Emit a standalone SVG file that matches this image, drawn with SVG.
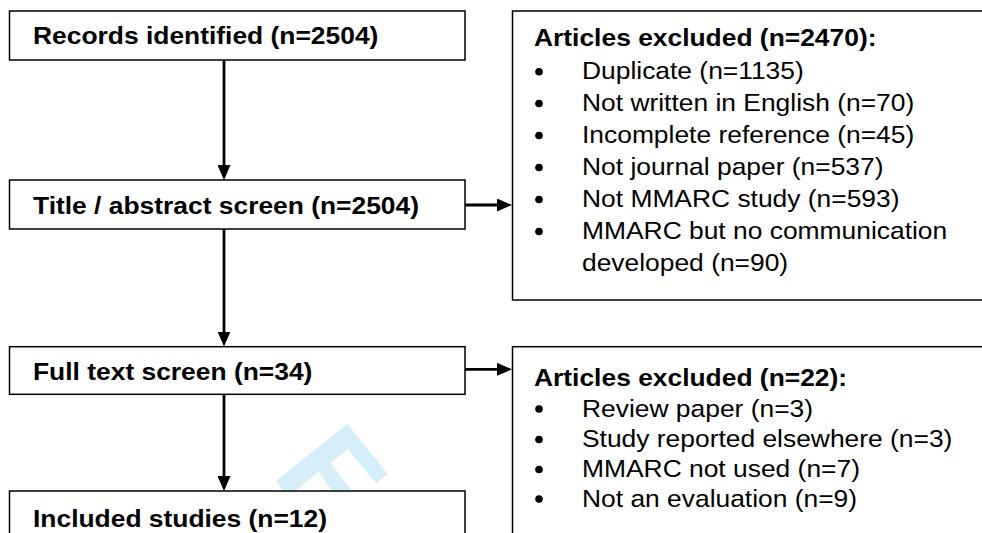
<svg xmlns="http://www.w3.org/2000/svg" width="982" height="533" viewBox="0 0 982 533">
<style>
.box{fill:#fff;stroke:#000;stroke-width:1.5}
.b{font-family:"Liberation Sans",Arial,sans-serif;font-size:24px;font-weight:bold;fill:#000}
.r{font-family:"Liberation Sans",Arial,sans-serif;font-size:24px;fill:#000}
.conn{stroke:#000;stroke-width:2.8;fill:none;marker-end:url(#ah)}
.wm{fill:#d5eefa}
</style>
<defs>
<marker id="ah" viewBox="0 0 15 13" refX="5" refY="6.5" markerWidth="15" markerHeight="13" markerUnits="userSpaceOnUse" orient="auto">
<path d="M0,0 L15,6.5 L0,13 z" fill="#000"/>
</marker>
<circle id="dot" r="3.8" fill="#000"/>
</defs>
<rect width="982" height="533" fill="#fff"/>
<polygon class="wm" points="347.3,424 387.7,474 376,483.3 347.7,449 330.7,462.7 351.7,491 332.3,491 318.3,471.7 295,491 283.3,491 276,481"/>

<g id="records">
<rect class="box" x="9.5" y="11" width="455.5" height="49"/>
<text class="b" transform="translate(33,44) scale(1.1,1)">Records identified (n=2504)</text>
</g>
<g id="title-screen">
<rect class="box" x="9.5" y="180" width="455.5" height="49"/>
<text class="b" transform="translate(33,213.5) scale(1.1,1)">Title / abstract screen (n=2504)</text>
</g>
<g id="fulltext-screen">
<rect class="box" x="9.5" y="346.7" width="455.5" height="47.6"/>
<text class="b" transform="translate(33,379.5) scale(1.1,1)">Full text screen (n=34)</text>
</g>
<g id="included">
<rect class="box" x="9.5" y="491" width="455.5" height="60"/>
<text class="b" transform="translate(33,527) scale(1.1,1)">Included studies (n=12)</text>
</g>

<g id="excluded-1">
<rect class="box" x="512.5" y="11" width="480" height="289"/>
<text class="b" transform="translate(534,45.5) scale(1.1,1)">Articles excluded (n=2470):</text>
<use href="#dot" x="539" y="71.7"/>
<text class="r" transform="translate(582,79) scale(1.1,1)">Duplicate (n=1135)</text>
<use href="#dot" x="539" y="103.5"/>
<text class="r" transform="translate(582,111) scale(1.1,1)">Not written in English (n=70)</text>
<use href="#dot" x="539" y="135.5"/>
<text class="r" transform="translate(582,143) scale(1.1,1)">Incomplete reference (n=45)</text>
<use href="#dot" x="539" y="167.5"/>
<text class="r" transform="translate(582,175) scale(1.1,1)">Not journal paper (n=537)</text>
<use href="#dot" x="539" y="199.5"/>
<text class="r" transform="translate(582,207) scale(1.1,1)">Not MMARC study (n=593)</text>
<use href="#dot" x="539" y="231.5"/>
<text class="r" transform="translate(582,239) scale(1.1,1)">MMARC but no communication</text>
<text class="r" transform="translate(582,271) scale(1.1,1)">developed (n=90)</text>
</g>

<g id="excluded-2">
<rect class="box" x="512.5" y="346.7" width="480" height="200"/>
<text class="b" transform="translate(534,386) scale(1.1,1)">Articles excluded (n=22):</text>
<use href="#dot" x="539" y="409"/>
<text class="r" transform="translate(582,416.5) scale(1.1,1)">Review paper (n=3)</text>
<use href="#dot" x="539" y="439.5"/>
<text class="r" transform="translate(582,447) scale(1.1,1)">Study reported elsewhere (n=3)</text>
<use href="#dot" x="539" y="469.5"/>
<text class="r" transform="translate(582,477) scale(1.1,1)">MMARC not used (n=7)</text>
<use href="#dot" x="539" y="499"/>
<text class="r" transform="translate(582,506.5) scale(1.1,1)">Not an evaluation (n=9)</text>
</g>

<g id="connectors">
<line class="conn" x1="224" y1="60" x2="224" y2="170"/>
<line class="conn" x1="224" y1="229" x2="224" y2="336.5"/>
<line class="conn" x1="224" y1="394.3" x2="224" y2="481"/>
<line class="conn" x1="465" y1="205" x2="502" y2="205"/>
<line class="conn" x1="465" y1="369.3" x2="502" y2="369.3"/>
</g>
</svg>
